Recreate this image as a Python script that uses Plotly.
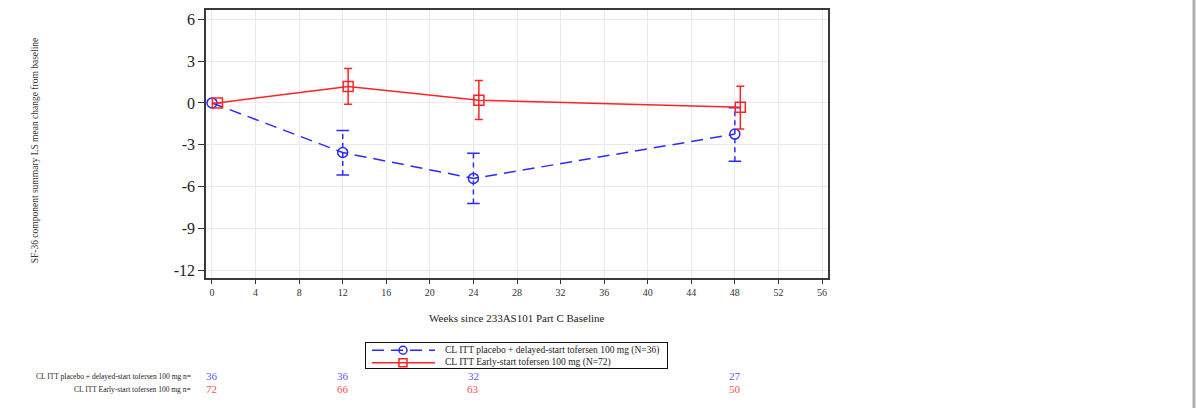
import plotly.graph_objects as go

# Visit weeks and LS mean change from baseline (with 95% CL)
weeks = [0, 12, 24, 48]

placebo_name = "CL ITT placebo + delayed-start tofersen 100 mg (N=36)"
placebo_mean = [0.0, -3.55, -5.40, -2.23]
placebo_lower = [0.0, -5.16, -7.19, -4.17]
placebo_upper = [0.0, -1.97, -3.60, -0.34]

early_name = "CL ITT Early-start tofersen 100 mg (N=72)"
early_mean = [0.0, 1.18, 0.19, -0.31]
early_lower = [0.0, -0.10, -1.18, -1.87]
early_upper = [0.0, 2.47, 1.61, 1.20]

# Number of subjects at each visit
n_label_placebo = "CL ITT placebo + delayed-start tofersen 100 mg n="
n_label_early = "CL ITT Early-start tofersen 100 mg n="
n_placebo = [36, 36, 32, 27]
n_early = [72, 66, 63, 50]

y_tick_vals = [-12, -9, -6, -3, 0, 3, 6]
y_tick_text = ["-12", "-9", "-6", "-3", "0", "3", "6"]
x_tick_vals = list(range(0, 57, 4))

BLUE = "#2b2bff"
RED = "#ff2323"
SERIF = "Liberation Serif"
CLUSTER_SHIFT = 0.5  # horizontal offset of the second group
LINE_DASH = "12px,7px"

# Page geometry (pixels)
W, H = 1196, 408
M_L, M_R, M_T, M_B = 206, 368, 10, 8
AREA_H = H - M_T - M_B


def py(pix):
    """Convert a pixel row in the page to a paper y coordinate."""
    return (H - M_B - pix) / AREA_H


def px(pix):
    """Convert a pixel column in the page to a paper x coordinate."""
    return (pix - M_L) / (W - M_L - M_R)


early_x = [w + CLUSTER_SHIFT for w in weeks]

fig = go.Figure()

# Dashed whiskers for the placebo group (baseline has no CL)
wx, wy, cx, cy = [], [], [], []
for w, lo, hi in zip(weeks, placebo_lower, placebo_upper):
    if hi == lo:
        continue
    wx += [w, w, None]
    wy += [lo, hi, None]
    cx += [w, w]
    cy += [lo, hi]
fig.add_trace(go.Scatter(x=wx, y=wy, mode="lines", showlegend=False, hoverinfo="skip",
                         line=dict(color=BLUE, width=1.5, dash="5px,4px")))
fig.add_trace(go.Scatter(x=cx, y=cy, mode="markers", showlegend=False, hoverinfo="skip",
                         marker=dict(symbol="line-ew", size=9,
                                     line=dict(color=BLUE, width=1.5))))

fig.add_trace(go.Scatter(
    x=weeks, y=placebo_mean, name=placebo_name, mode="lines+markers", showlegend=False,
    line=dict(color=BLUE, width=1.5, dash=LINE_DASH),
    marker=dict(symbol="circle-open", size=10, color=BLUE, line=dict(width=1.5)),
))

fig.add_trace(go.Scatter(
    x=early_x, y=early_mean, name=early_name, mode="lines+markers", showlegend=False,
    line=dict(color=RED, width=1.5),
    marker=dict(symbol="square-open", size=10, color=RED, line=dict(width=1.5)),
    error_y=dict(type="data", symmetric=False,
                 array=[u - m for u, m in zip(early_upper, early_mean)],
                 arrayminus=[m - l for m, l in zip(early_mean, early_lower)],
                 color=RED, thickness=1.5, width=4),
))

# Legend box drawn on its own small axis pair (units: pixels inside the box)
LEG_W, LEG_H = 301, 25
legend_rows = [
    (placebo_name, BLUE, LINE_DASH, "circle-open", 18),
    (early_name, RED, "solid", "square-open", 5.5),
]
for name, color, dash, symbol, row_y in legend_rows:
    fig.add_trace(go.Scatter(x=[6, 69], y=[row_y, row_y], mode="lines", xaxis="x2", yaxis="y2",
                             showlegend=False, hoverinfo="skip",
                             line=dict(color=color, width=1.5, dash=dash)))
    fig.add_trace(go.Scatter(x=[37], y=[row_y], mode="markers", xaxis="x2", yaxis="y2",
                             showlegend=False, hoverinfo="skip",
                             marker=dict(symbol=symbol, size=8, color=color,
                                         line=dict(width=1.5))))

annotations = [
    dict(text="SF-36 component summary LS mean change from baseline",
         xref="paper", yref="paper", x=px(28), y=py(151), textangle=-90,
         showarrow=False, font=dict(family=SERIF, size=9.5, color="#333")),
    dict(text="Weeks since 233AS101 Part C Baseline",
         xref="paper", yref="paper", x=0.5, y=py(320), xanchor="center", yanchor="middle",
         showarrow=False, font=dict(family=SERIF, size=11, color="#222")),
    dict(text=n_label_placebo, xref="paper", yref="paper", x=px(193), y=py(378),
         xanchor="right", yanchor="middle", showarrow=False,
         font=dict(family=SERIF, size=7.5, color="#222")),
    dict(text=n_label_early, xref="paper", yref="paper", x=px(193), y=py(391),
         xanchor="right", yanchor="middle", showarrow=False,
         font=dict(family=SERIF, size=7.5, color="#222")),
]
for name, color, dash, symbol, row_y in legend_rows:
    annotations.append(dict(text=name, xref="x2", yref="y2", x=77, y=row_y,
                            xanchor="left", yanchor="middle", showarrow=False,
                            font=dict(family=SERIF, size=9.5, color="#222")))
for w, n in zip(weeks, n_placebo):
    annotations.append(dict(text=str(n), xref="x", yref="paper", x=w, y=py(378),
                            xanchor="center", yanchor="middle", showarrow=False,
                            font=dict(family=SERIF, size=11, color="#5a5aff")))
for w, n in zip(weeks, n_early):
    annotations.append(dict(text=str(n), xref="x", yref="paper", x=w, y=py(391),
                            xanchor="center", yanchor="middle", showarrow=False,
                            font=dict(family=SERIF, size=11, color="#ff5050")))

fig.update_layout(
    width=W, height=H,
    margin=dict(l=M_L, r=M_R, t=M_T, b=M_B),
    paper_bgcolor="white", plot_bgcolor="white",
    font=dict(family=SERIF, color="#222"),
    showlegend=False,
    annotations=annotations,
    shapes=[dict(type="line", xref="paper", yref="paper",
                 x0=px(1194), x1=px(1194), y0=-0.05, y1=1.05,
                 line=dict(color="#b0b0b0", width=3))],
    xaxis=dict(domain=[0, 1], anchor="y", range=[-0.55, 56.55], tickvals=x_tick_vals,
               ticks="outside", ticklen=5, tickcolor="#333",
               showgrid=True, gridcolor="#e9e9e9", gridwidth=1,
               showline=True, linecolor="#3a3a3a", linewidth=1.5, mirror=True,
               zeroline=False, tickfont=dict(family=SERIF, size=10, color="#333")),
    yaxis=dict(domain=[py(279), 1], anchor="x", range=[-12.5, 6.65], tickvals=y_tick_vals,
               ticktext=y_tick_text, ticks="outside", ticklen=6, tickcolor="#333",
               showgrid=True, gridcolor="#e9e9e9", gridwidth=1,
               showline=True, linecolor="#3a3a3a", linewidth=1.5, mirror=True,
               zeroline=False, tickfont=dict(family=SERIF, size=16, color="#222")),
    xaxis2=dict(domain=[px(366), px(667)], anchor="y2", range=[0, LEG_W],
                showgrid=False, zeroline=False, showticklabels=False, ticks="",
                showline=True, mirror=True, linecolor="#111", linewidth=1),
    yaxis2=dict(domain=[py(370), py(345)], anchor="x2", range=[0, LEG_H],
                showgrid=False, zeroline=False, showticklabels=False, ticks="",
                showline=True, mirror=True, linecolor="#111", linewidth=1),
)

fig.write_html("out.html")
